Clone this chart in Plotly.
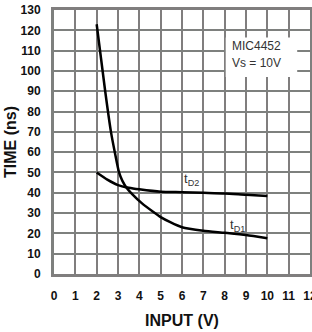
import plotly.graph_objects as go

# Data
td1_x = [2, 2.4, 2.67, 2.85, 3.05, 3.2, 3.4, 3.7, 4.1, 4.66, 5, 5.45, 6, 7, 8, 9, 10]
td1_y = [123, 90, 70, 60, 50, 46, 42.5, 39, 35, 30.5, 28, 25.5, 23, 21.3, 20.3, 19.2, 17.6]
td2_x = [2, 2.5, 3, 3.5, 4, 5, 6, 7, 8, 9, 10]
td2_y = [50, 46.5, 43.8, 42.5, 41.7, 40.5, 40.3, 40, 39.7, 39, 38.4]

x_ticks = list(range(0, 13))
y_ticks = list(range(0, 131, 10))

FONT = "Liberation Sans, Arial, sans-serif"
GRID_X = "rgb(128,126,126)"
GRID_Y = "rgb(126,128,126)"

fig = go.Figure()
fig.add_trace(go.Scatter(x=td1_x, y=td1_y, mode="lines",
                         line=dict(color="black", width=2.5, shape="spline", smoothing=0.6),
                         showlegend=False, hoverinfo="skip"))
fig.add_trace(go.Scatter(x=td2_x, y=td2_y, mode="lines",
                         line=dict(color="black", width=2.5, shape="spline", smoothing=0.6),
                         showlegend=False, hoverinfo="skip"))

# White box behind the condition text
fig.add_shape(type="rect", xref="x", yref="y", x0=8.05, x1=11.4, y0=97, y1=116.5,
              fillcolor="white", line=dict(width=0), layer="above")

fig.add_annotation(x=9.5, y=112.3, text="MIC4452", showarrow=False,
                   font=dict(family=FONT, size=12, color="#333"))
fig.add_annotation(x=9.5, y=104, text="Vs = 10V", showarrow=False,
                   font=dict(family=FONT, size=12, color="#333"))
fig.add_annotation(x=6.45, y=46.5, text="t<sub>D2</sub>", showarrow=False,
                   font=dict(family=FONT, size=13, color="#333"))
fig.add_annotation(x=8.6, y=24.0, text="t<sub>D1</sub>", showarrow=False,
                   font=dict(family=FONT, size=13, color="#333"))

fig.update_layout(
    template="none", width=312, height=332,
    margin=dict(l=54, r=2, t=10, b=58),
    paper_bgcolor="white", plot_bgcolor="white",
    xaxis=dict(range=[0, 12], tickmode="array", tickvals=x_ticks,
               ticktext=["<b>%d</b>" % v for v in x_ticks],
               showgrid=True, gridcolor=GRID_X, gridwidth=2,
               showline=True, linecolor="green", linewidth=3, mirror=True,
               zeroline=False, ticks="outside", ticklen=9, tickcolor="rgba(0,0,0,0)",
               ticklabeloverflow="allow", automargin=False,
               tickfont=dict(family=FONT, size=12, color="#111"),
               title=dict(text="<b>INPUT (V)</b>", standoff=13,
                          font=dict(family=FONT, size=16, color="#111"))),
    yaxis=dict(range=[0, 130], tickmode="array", tickvals=y_ticks,
               ticktext=["<b>%d</b>" % v for v in y_ticks],
               showgrid=True, gridcolor=GRID_Y, gridwidth=2,
               showline=True, linecolor="green", linewidth=3, mirror=True,
               zeroline=False, ticks="outside", ticklen=8, tickcolor="rgba(0,0,0,0)",
               ticklabeloverflow="allow", automargin=False,
               tickfont=dict(family=FONT, size=12, color="#111"),
               title=dict(text="<b>TIME (ns)</b>", standoff=0,
                          font=dict(family=FONT, size=16, color="#111"))),
)
fig.update_xaxes(linecolor=GRID_X)
fig.update_yaxes(linecolor=GRID_Y)

fig.write_html("out.html", config={"displayModeBar": False},
               post_script="document.body.style.margin='0px';")
